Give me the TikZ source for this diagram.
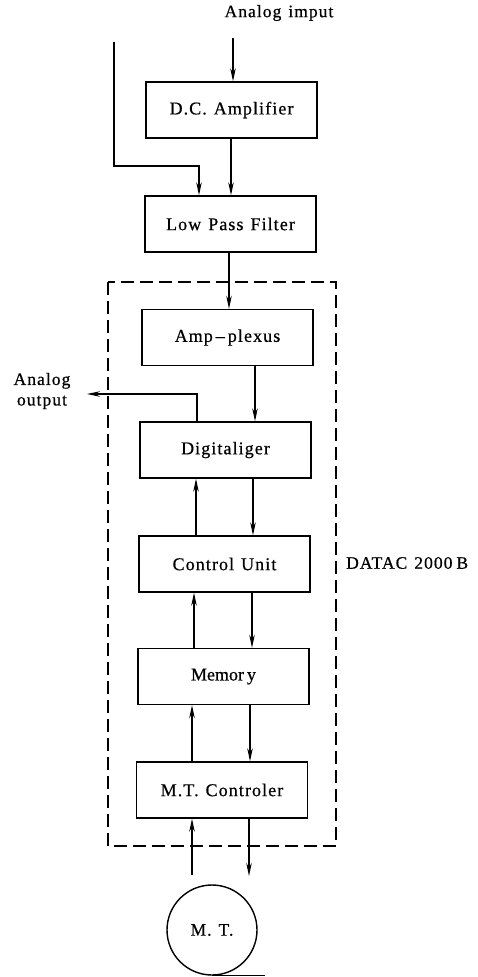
\documentclass[tikz,border=0pt]{standalone}
\usepackage{fontspec}
\setmainfont{Liberation Serif}[LetterSpace=6,FakeBold=0.6]
\usetikzlibrary{arrows.meta}
\newcommand\wsp{\hspace{7pt}}
\begin{document}
\begin{tikzpicture}[x=1pt,y=-1pt,
  box/.style={draw, line width=1.4pt, minimum width=171pt, minimum height=56pt, inner sep=0pt, font=\fontsize{18}{21}\selectfont},
  arr/.style={line width=1.2pt, -{Stealth[length=13pt,width=5.5pt]}},
  ln/.style={line width=1.2pt},
  lbl/.style={font=\fontsize{17.5}{20.5}\selectfont, inner sep=0pt},
  frame/.style={line width=1.3pt, dash pattern=on 13pt off 6pt}]
\useasboundingbox (0,0) rectangle (477,977);

% frame of the DATAC unit
\draw[frame] (108,282) rectangle (336,846);

% boxes
\node[box] (dc)  at (231.5,110)   {D.C.\wsp Amplifier};
\node[box] (lpf) at (230.5,224)   {Low\wsp Pass\wsp Filter};
\node[box] (amp) at (227.5,337.5) {Amp\,--\,plexus};
\node[box] (dig) at (225.5,450)   {Digitaliger};
\node[box] (cu)  at (224.5,564)   {Control\wsp Unit};
\node[box] (mem) at (223.5,676.5) {\addfontfeature{LetterSpace=0}Memor\,y};
\node[box] (mtc) at (222,790)     {M.T.\wsp Controler};
\node[draw, circle, line width=1.4pt, minimum size=90pt, inner sep=0pt, lbl] (mt) at (212,930) {M.\wsp T.};

% labels
\node[lbl] (tin) at (279,13) {Analog\wsp imput};
\node[lbl, align=center] (tout) at (42,391) {Analog\\output};
\node[lbl, anchor=west] (datac) at (346,563) {DATAC\wsp 2000\hspace{4pt}B};

% free ends
\coordinate (in)   at (233,38);
\coordinate (ext)  at (114,42);
\coordinate (aout) at (87,394);
\coordinate (tapeup) at (192,875);
\coordinate (tapedn) at (249,876);

% connectors
\draw[arr] (in) -- (dc.north -| in);
\draw[arr] (ext) |- (199,166) -- (lpf.north -| 199,0);
\draw[arr] (dc.south -| 231,0) -- (lpf.north -| 231,0);
\draw[arr] (lpf.south -| 229,0) -- (amp.north -| 229,0);
\draw[arr] (amp.south -| 255,0) -- (dig.north -| 255,0);
\draw[arr] (dig.north -| 197,0) |- (aout);
\draw[arr] (cu.north -| 196,0) -- (dig.south -| 196,0);
\draw[arr] (dig.south -| 253,0) -- (cu.north -| 253,0);
\draw[arr] (mem.north -| 194,0) -- (cu.south -| 194,0);
\draw[arr] (cu.south -| 252,0) -- (mem.north -| 252,0);
\draw[arr] (mtc.north -| 192,0) -- (mem.south -| 192,0);
\draw[arr] (mem.south -| 250,0) -- (mtc.north -| 250,0);
\draw[arr] (tapeup) -- (mtc.south -| tapeup);
\draw[arr] (mtc.south -| tapedn) -- (tapedn);
\draw[ln] (mt.south) -- ++(53,0);
\end{tikzpicture}
\end{document}
